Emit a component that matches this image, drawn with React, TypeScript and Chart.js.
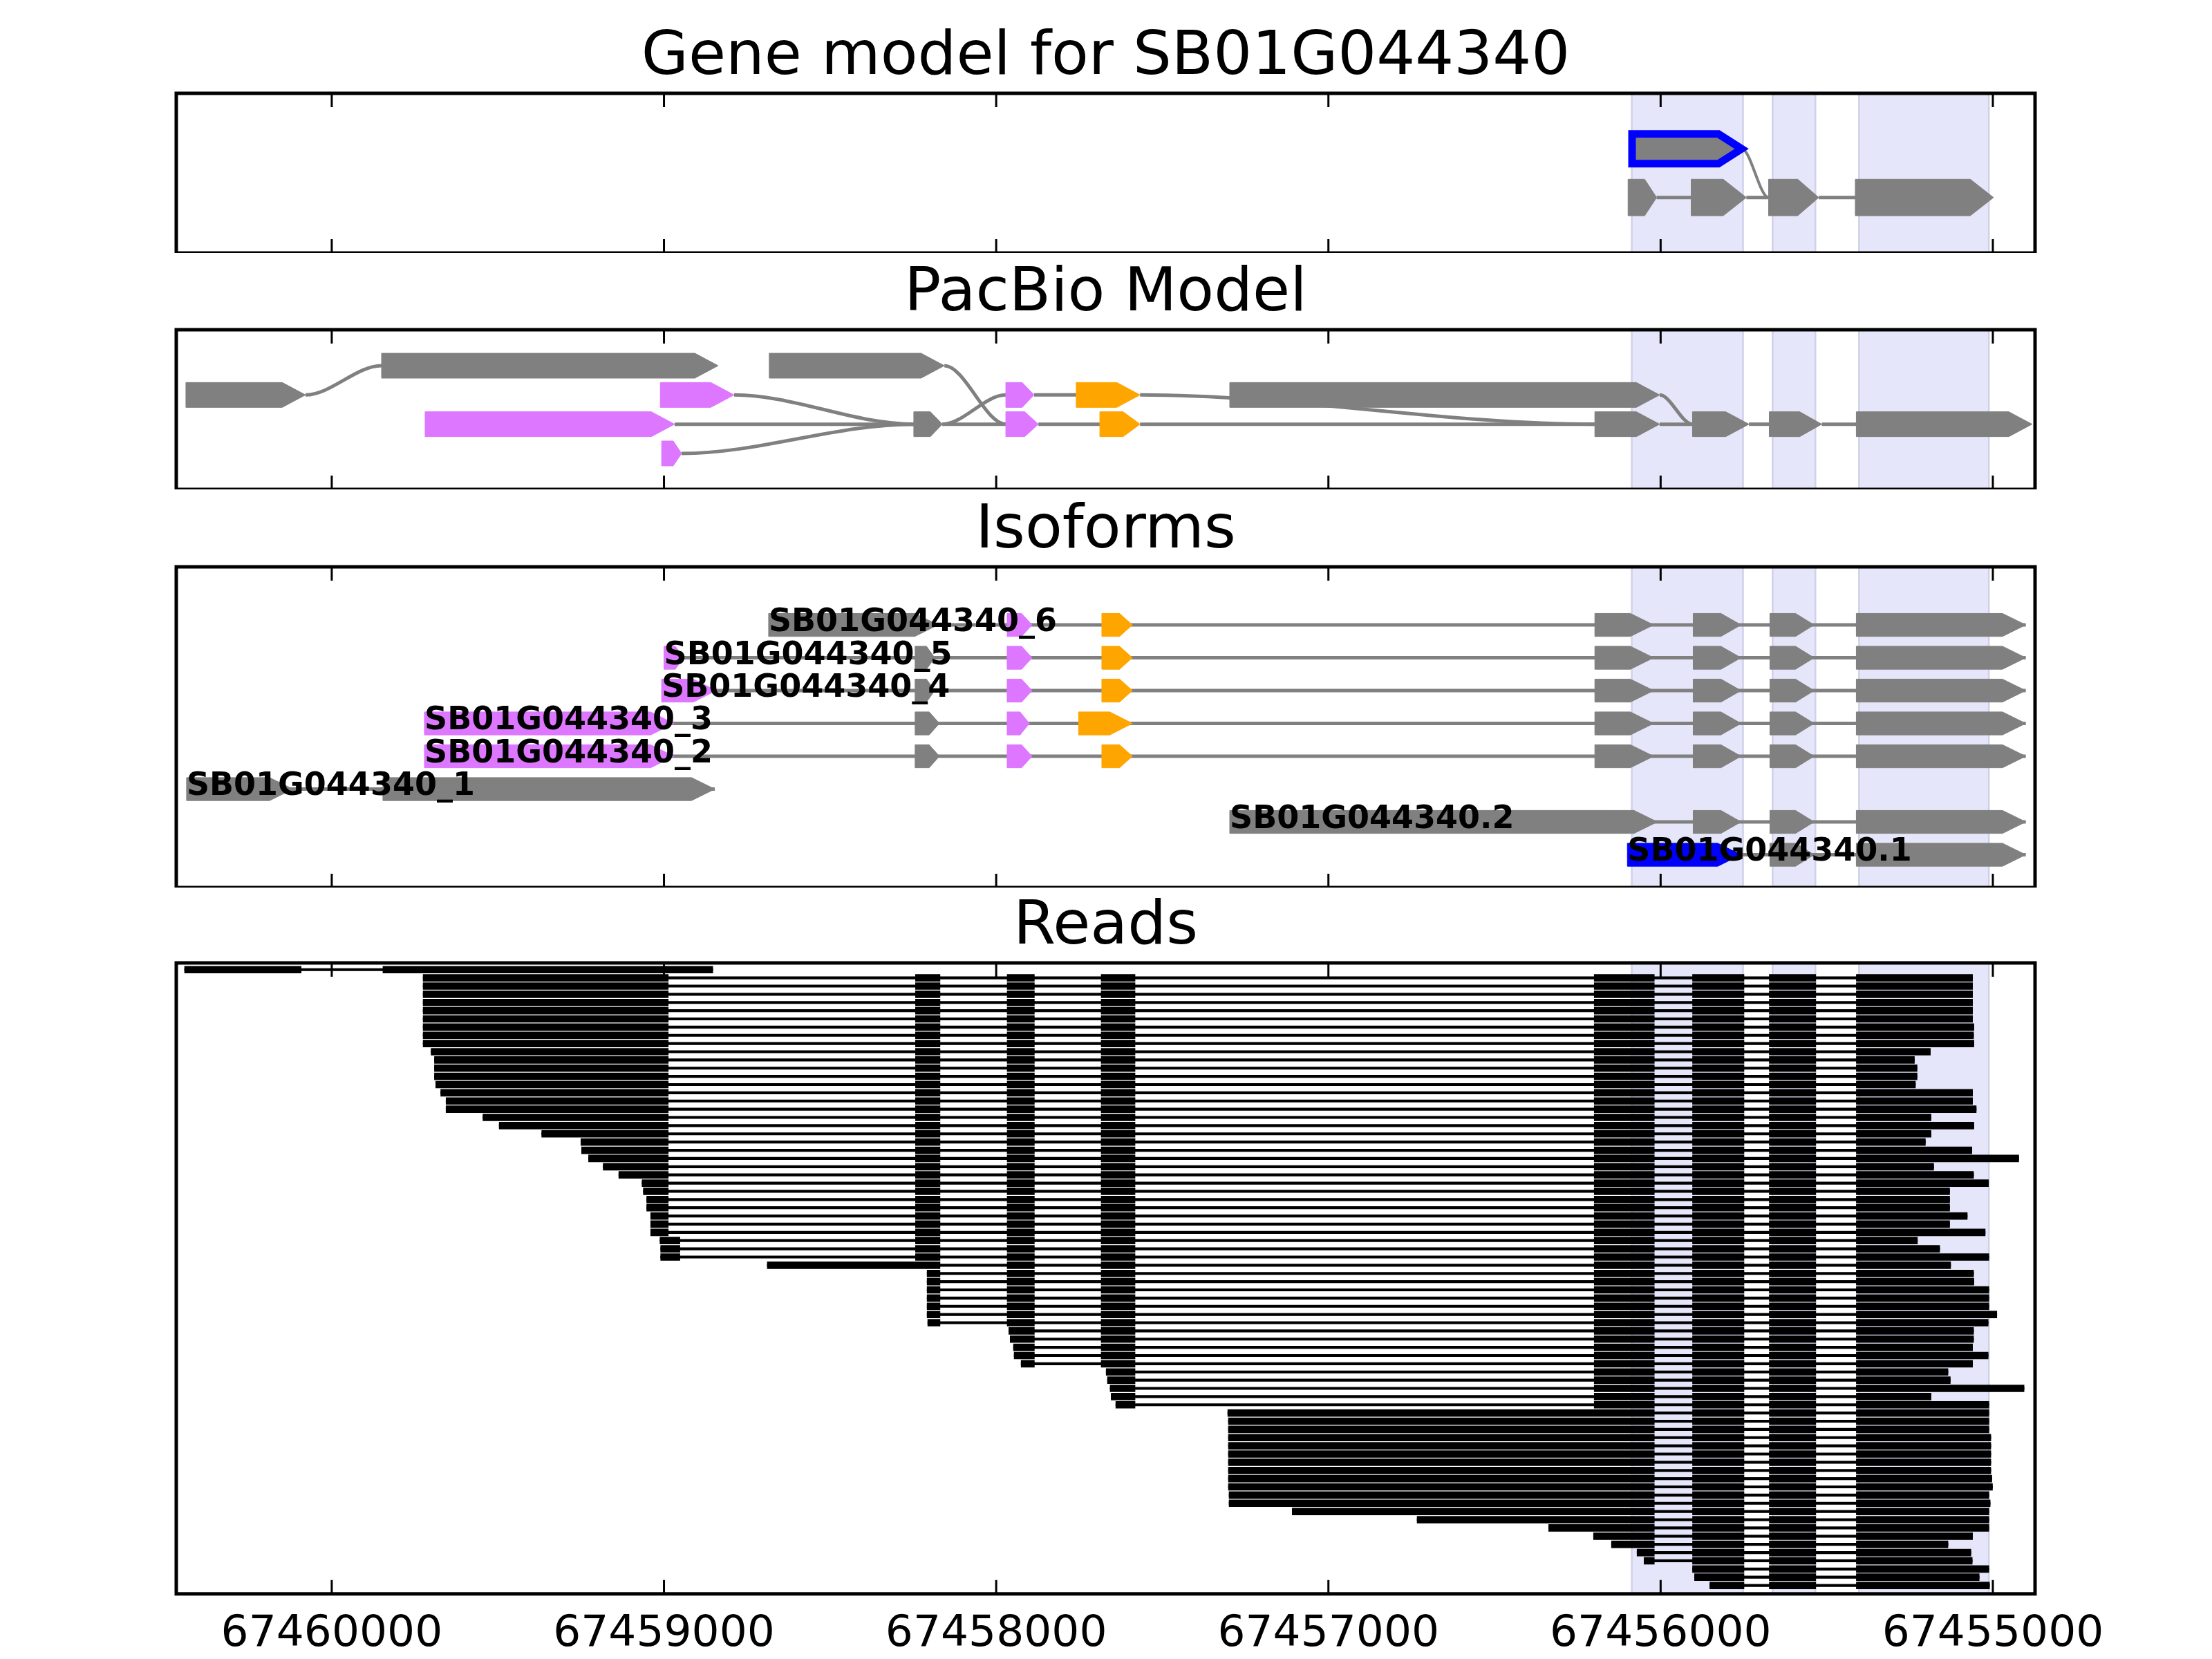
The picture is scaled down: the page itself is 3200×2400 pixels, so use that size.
import React, { useEffect, useRef } from 'react';
import { Chart, registerables } from 'chart.js';

Chart.register(...registerables);

const FONT = 'DejaVu Sans';
Chart.defaults.font.family = FONT;

// ---------- shared axis ----------
const X_MIN = 67454873;
const X_MAX = 67460468;
const X_TICKS = [67460000, 67459000, 67458000, 67457000, 67456000, 67455000];
const HIGHLIGHT_BANDS = [
  [67456087, 67455752],
  [67455663, 67455534],
  [67455403, 67455012],
];

const TITLES = ['Gene model for SB01G044340', 'PacBio Model', 'Isoforms', 'Reads'];

// ---------- gene model: [start, end, track, kind] ----------
const GENE_EXONS: any[] = [
  [67456086, 67455756, 2, 'outline'],
  [67456098, 67456012, 1, 'gray'],
  [67455908, 67455742, 1, 'gray'],
  [67455675, 67455524, 1, 'gray'],
  [67455414, 67454998, 1, 'gray'],
];
// [from, fromTrack, to, toTrack]
const GENE_LINKS = [
  [67456012, 1, 67455908, 1],
  [67455742, 1, 67455675, 1],
  [67455524, 1, 67455414, 1],
  [67455756, 2, 67455675, 1],
];

// ---------- PacBio model ----------
const PB_EXONS: any[] = [
  [67459850, 67458837, 4, 'gray'],
  [67458683, 67458156, 4, 'gray'],
  [67460439, 67460079, 3, 'gray'],
  [67459011, 67458789, 3, 'pink'],
  [67457971, 67457886, 3, 'pink'],
  [67457759, 67457567, 3, 'orange'],
  [67457297, 67456003, 3, 'gray'],
  [67459719, 67458968, 2, 'pink'],
  [67458248, 67458162, 2, 'gray'],
  [67457971, 67457873, 2, 'pink'],
  [67457688, 67457567, 2, 'orange'],
  [67456198, 67456003, 2, 'gray'],
  [67455904, 67455734, 2, 'gray'],
  [67455673, 67455515, 2, 'gray'],
  [67455411, 67454882, 2, 'gray'],
  [67459007, 67458947, 1, 'pink'],
];
const PB_LINKS = [
  [67458968, 2, 67458248, 2],
  [67458162, 2, 67457971, 2],
  [67457873, 2, 67457688, 2],
  [67457567, 2, 67456198, 2],
  [67456003, 2, 67455904, 2],
  [67455734, 2, 67455673, 2],
  [67455515, 2, 67455411, 2],
  [67457886, 3, 67457759, 3],
  [67460079, 3, 67459850, 4],
  [67458156, 4, 67457971, 2],
  [67458789, 3, 67458248, 2],
  [67458947, 1, 67458248, 2],
  [67458162, 2, 67457971, 3],
  [67457567, 3, 67456198, 2],
  [67456003, 3, 67455904, 2],
];

// ---------- Isoforms ----------
const ISO_NAMES = [
  'SB01G044340_6', 'SB01G044340_5', 'SB01G044340_4', 'SB01G044340_3',
  'SB01G044340_2', 'SB01G044340_1', 'SB01G044340.2', 'SB01G044340.1',
];
const ISO_TRACKS = [8, 7, 6, 5, 4, 3, 2, 1];
const ISO_EXONS: any[][] = [
  [[67458685, 67458175, 'gray'], [67457967, 67457892, 'pink'], [67457682, 67457590, 'orange'],
   [67456198, 67456021, 'gray'], [67455902, 67455758, 'gray'], [67455671, 67455538, 'gray'], [67455411, 67454901, 'gray']],
  [[67459000, 67458941, 'pink'], [67458244, 67458185, 'gray'], [67457967, 67457892, 'pink'], [67457682, 67457590, 'orange'],
   [67456198, 67456021, 'gray'], [67455902, 67455758, 'gray'], [67455671, 67455538, 'gray'], [67455411, 67454901, 'gray']],
  [[67459007, 67458843, 'pink'], [67458244, 67458185, 'gray'], [67457967, 67457892, 'pink'], [67457682, 67457590, 'orange'],
   [67456198, 67456021, 'gray'], [67455902, 67455758, 'gray'], [67455671, 67455538, 'gray'], [67455411, 67454901, 'gray']],
  [[67459721, 67458970, 'pink'], [67458244, 67458171, 'gray'], [67457967, 67457900, 'pink'], [67457752, 67457590, 'orange'],
   [67456198, 67456021, 'gray'], [67455902, 67455758, 'gray'], [67455671, 67455538, 'gray'], [67455411, 67454901, 'gray']],
  [[67459721, 67458970, 'pink'], [67458244, 67458171, 'gray'], [67457967, 67457892, 'pink'], [67457682, 67457590, 'orange'],
   [67456198, 67456021, 'gray'], [67455902, 67455758, 'gray'], [67455671, 67455538, 'gray'], [67455411, 67454901, 'gray']],
  [[67460437, 67460117, 'gray'], [67459846, 67458847, 'gray']],
  [[67457297, 67456010, 'gray'], [67455902, 67455758, 'gray'], [67455671, 67455538, 'gray'], [67455411, 67454901, 'gray']],
  [[67456100, 67455758, 'blue'], [67455671, 67455538, 'gray'], [67455411, 67454901, 'gray']],
];

// ---------- Reads ----------
const READ_EXONS = [
  [67460443, 67460092],
  [67459846, 67458853],
  [67459725, 67458987],
  [67459011, 67458952],
  [67458243, 67458169],
  [67457967, 67457885],
  [67457684, 67457582],
  [67456200, 67456019],
  [67455904, 67455749],
  [67455673, 67455533],
  [67455411, 67455000],
];
const READ_PATHS: Record<string, number[]> = {
  P0: [0, 1],
  PA: [2, 4, 5, 6, 7, 8, 9, 10],
  PB: [3, 4, 5, 6, 7, 8, 9, 10],
  PC: [4, 5, 6, 7, 8, 9, 10],
  PD: [5, 6, 7, 8, 9, 10],
  PE: [6, 7, 8, 9, 10],
  PF: [7, 8, 9, 10],
  PG: [8, 9, 10],
};
const READ_PATH: string[] = [
  'P0',
  'PA', 'PA', 'PA', 'PA', 'PA', 'PA', 'PA', 'PA', 'PA', 'PA', 'PA', 'PA', 'PA', 'PA', 'PA', 'PA',
  'PA', 'PA', 'PA', 'PA', 'PA', 'PA', 'PA', 'PA', 'PA', 'PA', 'PA', 'PA', 'PA', 'PA', 'PA', 'PA',
  'PB', 'PB', 'PB',
  'PC', 'PC', 'PC', 'PC', 'PC', 'PC', 'PC', 'PC',
  'PD', 'PD', 'PD', 'PD', 'PD',
  'PE', 'PE', 'PE', 'PE', 'PE',
  'PF', 'PF', 'PF', 'PF', 'PF', 'PF', 'PF', 'PF', 'PF', 'PF', 'PF', 'PF', 'PF', 'PF', 'PF', 'PF', 'PF', 'PF', 'PF',
  'PG', 'PG', 'PG',
];
const READ_STARTS = [
  67460443,
  67459725, 67459725, 67459725, 67459725, 67459725, 67459725, 67459725, 67459725, 67459725,
  67459701, 67459691, 67459691, 67459691, 67459687, 67459672, 67459656, 67459656,
  67459545, 67459496, 67459368, 67459250, 67459248, 67459227, 67459183, 67459136, 67459066, 67459062,
  67459052, 67459052, 67459040, 67459040, 67459040,
  67459012, 67459010, 67459010,
  67458689,
  67458208, 67458208, 67458208, 67458208, 67458208, 67458208, 67458206,
  67457962, 67457958, 67457948, 67457946, 67457925,
  67457669, 67457665, 67457657, 67457654, 67457640,
  67457303, 67457301, 67457301, 67457301, 67457301, 67457301, 67457301, 67457301, 67457301, 67457301, 67457299, 67457299,
  67457109, 67456733, 67456337, 67456202, 67456148, 67456071, 67456050,
  67455904, 67455898, 67455852,
];
const READ_ENDS = [
  67458853,
  67455061, 67455061, 67455061, 67455061, 67455061, 67455061, 67455057, 67455058, 67455057,
  67455188, 67455236, 67455228, 67455228, 67455233, 67455061, 67455061, 67455050,
  67455186, 67455057, 67455186, 67455203, 67455063, 67454922, 67455178, 67455058, 67455013, 67455130,
  67455130, 67455130, 67455077, 67455130, 67455023,
  67455227, 67455160, 67455012,
  67455127,
  67455058, 67455057, 67455012, 67455012, 67455012, 67454988, 67455014,
  67455058, 67455058, 67455061, 67455014, 67455061,
  67455135, 67455128, 67454906, 67455186, 67455012,
  67455012, 67455012, 67455012, 67455006, 67455006, 67455006, 67455006, 67455006, 67455003, 67455001, 67455012, 67455008,
  67455012, 67455012, 67455012, 67455061, 67455135, 67455066, 67455062,
  67455012, 67455041, 67455010,
];

// ---------- styling ----------
const COLORS: Record<string, string> = {
  gray: '#808080',
  pink: '#DD77FF',
  orange: '#FFA500',
  blue: '#0000FF',
  outline: '#808080',
};
const TIP_BP = 70;

function exonShape(start: number, end: number, y: number, half: number) {
  const tip = Math.min(TIP_BP, (start - end) * 0.42);
  return [
    { x: start, y },
    { x: start, y: y + half },
    { x: end + tip, y: y + half },
    { x: end, y },
    { x: end + tip, y: y - half },
    { x: start, y: y - half },
    { x: start, y },
  ];
}

function exonDataset(start: number, end: number, track: number, kind: string, half: number) {
  const outline = kind === 'outline';
  return {
    type: 'line',
    data: exonShape(start, end, track, half),
    fill: 'shape',
    backgroundColor: COLORS[kind],
    borderColor: outline ? '#0000FF' : COLORS[kind],
    borderWidth: outline ? 11 : 1,
    borderJoinStyle: 'miter',
    pointRadius: 0,
    tension: 0,
    order: 1,
  };
}

function lineDataset(a: number, b: number, track: number, width: number) {
  return {
    type: 'line',
    data: [{ x: a, y: track }, { x: b, y: track }],
    borderColor: '#808080',
    borderWidth: width,
    pointRadius: 0,
    fill: false,
    tension: 0,
    order: 2,
  };
}

const framePlugin = {
  id: 'frame',
  beforeDatasetsDraw(chart: any) {
    const { ctx, chartArea: a, scales } = chart;
    const x = scales.x;
    ctx.save();
    for (const [s, e] of HIGHLIGHT_BANDS) {
      const x0 = x.getPixelForValue(s);
      const x1 = x.getPixelForValue(e);
      ctx.fillStyle = '#E6E6FA';
      ctx.fillRect(x0, a.top, x1 - x0, a.bottom - a.top);
      ctx.strokeStyle = 'rgba(200,200,228,0.8)';
      ctx.lineWidth = 2.5;
      ctx.beginPath();
      ctx.moveTo(x0, a.top); ctx.lineTo(x0, a.bottom);
      ctx.moveTo(x1, a.top); ctx.lineTo(x1, a.bottom);
      ctx.stroke();
    }
    ctx.restore();
  },
  afterDraw(chart: any) {
    const { ctx, chartArea: a, scales } = chart;
    const x = scales.x;
    ctx.save();
    ctx.strokeStyle = '#000';
    ctx.lineWidth = 3;
    ctx.beginPath();
    for (const t of X_TICKS) {
      const px = x.getPixelForValue(t);
      ctx.moveTo(px, a.top); ctx.lineTo(px, a.top + 20);
      ctx.moveTo(px, a.bottom); ctx.lineTo(px, a.bottom - 20);
    }
    ctx.stroke();
    ctx.lineWidth = 5;
    ctx.strokeRect(a.left, a.top, a.right - a.left, a.bottom - a.top);
    ctx.restore();
  },
};

function curvePlugin(links: number[][], width: number) {
  return {
    id: 'curves',
    beforeDatasetsDraw(chart: any) {
      const { ctx, scales } = chart;
      const x = scales.x, y = scales.y;
      ctx.save();
      ctx.strokeStyle = '#808080';
      ctx.lineWidth = width;
      for (const [a, ta, b, tb] of links) {
        if (ta === tb) continue;
        const x0 = x.getPixelForValue(a), y0 = y.getPixelForValue(ta);
        const x1 = x.getPixelForValue(b), y1 = y.getPixelForValue(tb);
        const d = (x1 - x0) / 3;
        ctx.beginPath();
        ctx.moveTo(x0, y0);
        ctx.bezierCurveTo(x0 + d, y0, x1 - d, y1, x1, y1);
        ctx.stroke();
      }
      ctx.restore();
    },
  };
}

const isoLabelPlugin = {
  id: 'isoLabels',
  afterDatasetsDraw(chart: any) {
    const { ctx, scales } = chart;
    ctx.save();
    ctx.font = `bold 46px "${FONT}"`;
    ctx.fillStyle = '#000';
    ctx.textAlign = 'left';
    ctx.textBaseline = 'middle';
    ISO_NAMES.forEach((name, i) => {
      const px = scales.x.getPixelForValue(ISO_EXONS[i][0][0]);
      const py = scales.y.getPixelForValue(ISO_TRACKS[i]);
      ctx.fillText(name, px, py - 3);
    });
    ctx.restore();
  },
};

const PAD_LR = { left: 255, right: 256 };

function titleOpts(text: string) {
  return {
    display: true,
    text,
    color: '#000',
    font: { family: FONT, size: 88, weight: 'normal', lineHeight: 1.2 },
    padding: { top: 0, bottom: -2 },
  };
}

function hiddenX() {
  return { type: 'linear', display: false, reverse: true, min: X_MIN, max: X_MAX };
}

function modelConfig(title: string, datasets: any[], yMin: number, yMax: number, plugins: any[]) {
  return {
    type: 'line',
    data: { datasets },
    options: {
      responsive: false,
      devicePixelRatio: 1,
      animation: false,
      events: [],
      layout: { padding: { ...PAD_LR, top: 16.4, bottom: 0 } },
      plugins: { legend: { display: false }, tooltip: { enabled: false }, title: titleOpts(title) },
      scales: {
        x: hiddenX(),
        y: { type: 'linear', display: false, min: yMin, max: yMax },
      },
    },
    plugins,
  };
}

function geneConfig() {
  const ds: any[] = [];
  GENE_EXONS.forEach(([s, e, t, k]) => ds.push(exonDataset(s, e, t, k, k === 'outline' ? 0.305 : 0.375)));
  GENE_LINKS.forEach(([a, ta, b, tb]) => { if (ta === tb) ds.push(lineDataset(a, b, ta, 5)); });
  return modelConfig(TITLES[0], ds, -0.14, 3.14, [framePlugin, curvePlugin(GENE_LINKS, 4)]);
}

function pacbioConfig() {
  const ds: any[] = [];
  PB_EXONS.forEach(([s, e, t, k]) => ds.push(exonDataset(s, e, t, k, 0.425)));
  PB_LINKS.forEach(([a, ta, b, tb]) => { if (ta === tb) ds.push(lineDataset(a, b, ta, 5)); });
  return modelConfig(TITLES[1], ds, -0.23, 5.23, [framePlugin, curvePlugin(PB_LINKS, 5)]);
}

function isoConfig() {
  const ds: any[] = [];
  ISO_EXONS.forEach((exons, i) => {
    const t = ISO_TRACKS[i];
    exons.forEach(([s, e, k]) => ds.push(exonDataset(s, e, t, k, 0.35)));
    ds.push(lineDataset(exons[0][0], exons[exons.length - 1][1], t, 5));
  });
  return modelConfig(TITLES[2], ds, 0, 9.77, [framePlugin, isoLabelPlugin]);
}

function readsConfig() {
  const blockSets: any[][] = [];
  READ_PATH.forEach((pid, k) => {
    const path = READ_PATHS[pid];
    path.forEach((ei, j) => {
      const ex = READ_EXONS[ei];
      const s = j === 0 ? READ_STARTS[k] : ex[0];
      const e = j === path.length - 1 ? READ_ENDS[k] : ex[1];
      (blockSets[j] = blockSets[j] || []).push({ y: k, x: [s, e] });
    });
  });
  const datasets: any[] = blockSets.map((data) => ({
    data,
    backgroundColor: '#000',
    barThickness: 10,
    grouped: false,
    order: 1,
  }));
  datasets.push({
    data: READ_STARTS.map((s, k) => ({ y: k, x: [s, READ_ENDS[k]] })),
    backgroundColor: '#000',
    barThickness: 3.5,
    grouped: false,
    order: 2,
  });
  return {
    type: 'bar',
    data: { datasets },
    options: {
      indexAxis: 'y',
      responsive: false,
      devicePixelRatio: 1,
      animation: false,
      events: [],
      layout: { padding: { ...PAD_LR, top: 16.4, bottom: 7.2 } },
      plugins: { legend: { display: false }, tooltip: { enabled: false }, title: titleOpts(TITLES[3]) },
      scales: {
        x: {
          type: 'linear',
          reverse: true,
          min: X_MIN,
          max: X_MAX,
          offset: false,
          grid: { display: false, drawTicks: false },
          border: { display: false },
          afterBuildTicks: (scale: any) => { scale.ticks = X_TICKS.map((v) => ({ value: v })); },
          ticks: {
            color: '#000',
            padding: 20.7,
            maxRotation: 0,
            autoSkip: false,
            font: { family: FONT, size: 63, lineHeight: 1.2 },
            callback: (v: any) => String(v),
          },
        },
        y: { type: 'linear', display: false, reverse: true, min: -0.82, max: 76.03, offset: false },
      },
    },
    plugins: [framePlugin],
  };
}

function Panel({ top, height, build }: { top: number; height: number; build: () => any }) {
  const ref = useRef<HTMLCanvasElement>(null);
  useEffect(() => {
    const chart = new Chart(ref.current as HTMLCanvasElement, build());
    return () => chart.destroy();
  }, []);
  return (
    <canvas
      ref={ref}
      width={3200}
      height={height}
      style={{ position: 'absolute', left: 0, top, width: 3200, height }}
    />
  );
}

export default function App() {
  return (
    <div style={{ position: 'absolute', left: 0, top: 0, width: 3200, height: 2400, overflow: 'hidden', background: '#fff' }}>
      <Panel top={15} height={351} build={geneConfig} />
      <Panel top={357} height={351} build={pacbioConfig} />
      <Panel top={700} height={584} build={isoConfig} />
      <Panel top={1273} height={1157} build={readsConfig} />
    </div>
  );
}
